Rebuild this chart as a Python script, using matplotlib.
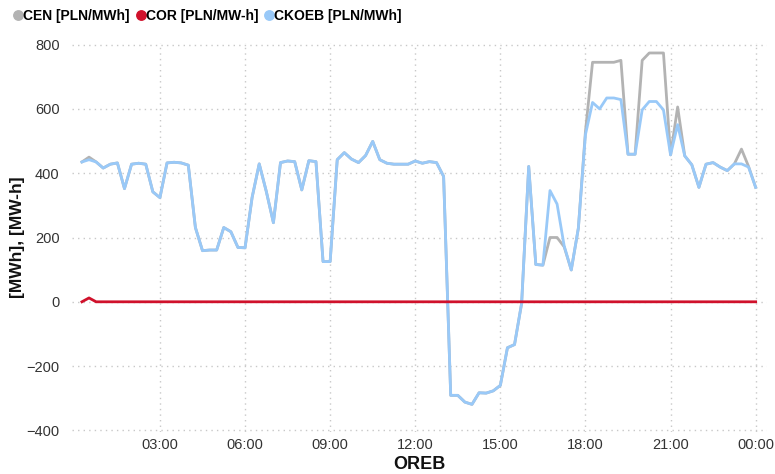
import matplotlib
matplotlib.use("Agg")
import matplotlib.pyplot as plt
from matplotlib.lines import Line2D
import numpy as np

plt.rcParams['font.family'] = ['Liberation Sans', 'DejaVu Sans']

# 96 quarter-hour periods, 00:15 .. 24:00 (hours)
hours = [(i + 1) * 0.25 for i in range(96)]

ckoeb = [435, 442, 435, 416, 428, 432, 352, 428, 431, 428, 342, 324,
         432, 434, 432, 425, 231, 159, 161, 161, 231, 218, 169, 168,
         325, 429, 343, 246, 433, 438, 436, 348, 439, 436, 125, 125,
         442, 464, 444, 433, 455, 499, 442, 431, 428, 428, 428, 438,
         431, 436, 433, 390, -291, -291, -312, -319, -283, -284, -277, -260,
         -143, -133, -5, 421, 116, 114, 346, 304, 174, 99, 229, 520,
         620, 600, 634, 634, 629, 459, 459, 597, 623, 623, 597, 457,
         551, 454, 426, 356, 428, 433, 419, 408, 429, 429, 419, 356]

cen = list(ckoeb)
cen_overrides = {1: 450, 66: 200, 67: 200, 68: 171, 71: 530,
                 72: 745, 73: 745, 74: 745, 75: 745, 76: 751,
                 79: 751, 80: 774, 81: 774, 82: 774, 84: 606,
                 93: 475, 94: 421}
for k, v in cen_overrides.items():
    cen[k] = v

cor = [0, 12] + [0] * 94

series_labels = ["CEN [PLN/MWh]", "COR [PLN/MW-h]", "CKOEB [PLN/MWh]"]
series_colors = ["#B3B3B3", "#D0112B", "#99C9F8"]

xtick_pos = [3, 6, 9, 12, 15, 18, 21, 24]
xtick_labels = ["03:00", "06:00", "09:00", "12:00", "15:00", "18:00", "21:00", "00:00"]
ytick_pos = [-400, -200, 0, 200, 400, 600, 800]

fig = plt.figure(figsize=(7.75, 4.74), dpi=100)
ax = fig.add_axes([72 / 775, 1 - 432 / 474, 695 / 775, 389 / 474])

ax.plot(hours, cen, color=series_colors[0], lw=2.0, zorder=2, solid_joinstyle='round')
ax.plot(hours, ckoeb, color=series_colors[2], lw=2.0, zorder=3, solid_joinstyle='round')
ax.plot(hours, cor, color=series_colors[1], lw=2.0, zorder=4, solid_joinstyle='round')

ax.set_xlim(-0.1, 24.4)
ax.set_ylim(-405, 805)
ax.set_xticks(xtick_pos)
ax.set_xticklabels(xtick_labels)
ax.set_yticks(ytick_pos)
ax.grid(True, color="#C8C8C8", linestyle=(0, (1, 3)), linewidth=1.0)
for s in ax.spines.values():
    s.set_visible(False)
ax.tick_params(axis='both', length=0, labelsize=10.5, labelcolor="#333333")
ax.tick_params(axis='y', pad=9)
ax.tick_params(axis='x', pad=4)

ax.set_xlabel("OREB", fontsize=13, fontweight='bold', labelpad=3, color="#111111")
ax.set_ylabel("[MWh], [MW-h]", fontsize=12.5, fontweight='bold', labelpad=1, color="#111111")

handles = [Line2D([], [], marker='o', linestyle='none', markersize=6.8,
                  markerfacecolor=c, markeredgecolor=c) for c in series_colors]
fig.legend(handles, series_labels, loc='upper left', bbox_to_anchor=(0.002, 1.008),
           ncol=3, frameon=False, handlelength=0.6, handletextpad=0.05,
           columnspacing=0.5, prop={'size': 10, 'weight': 'bold'})

fig.savefig("out.png", dpi=100)
